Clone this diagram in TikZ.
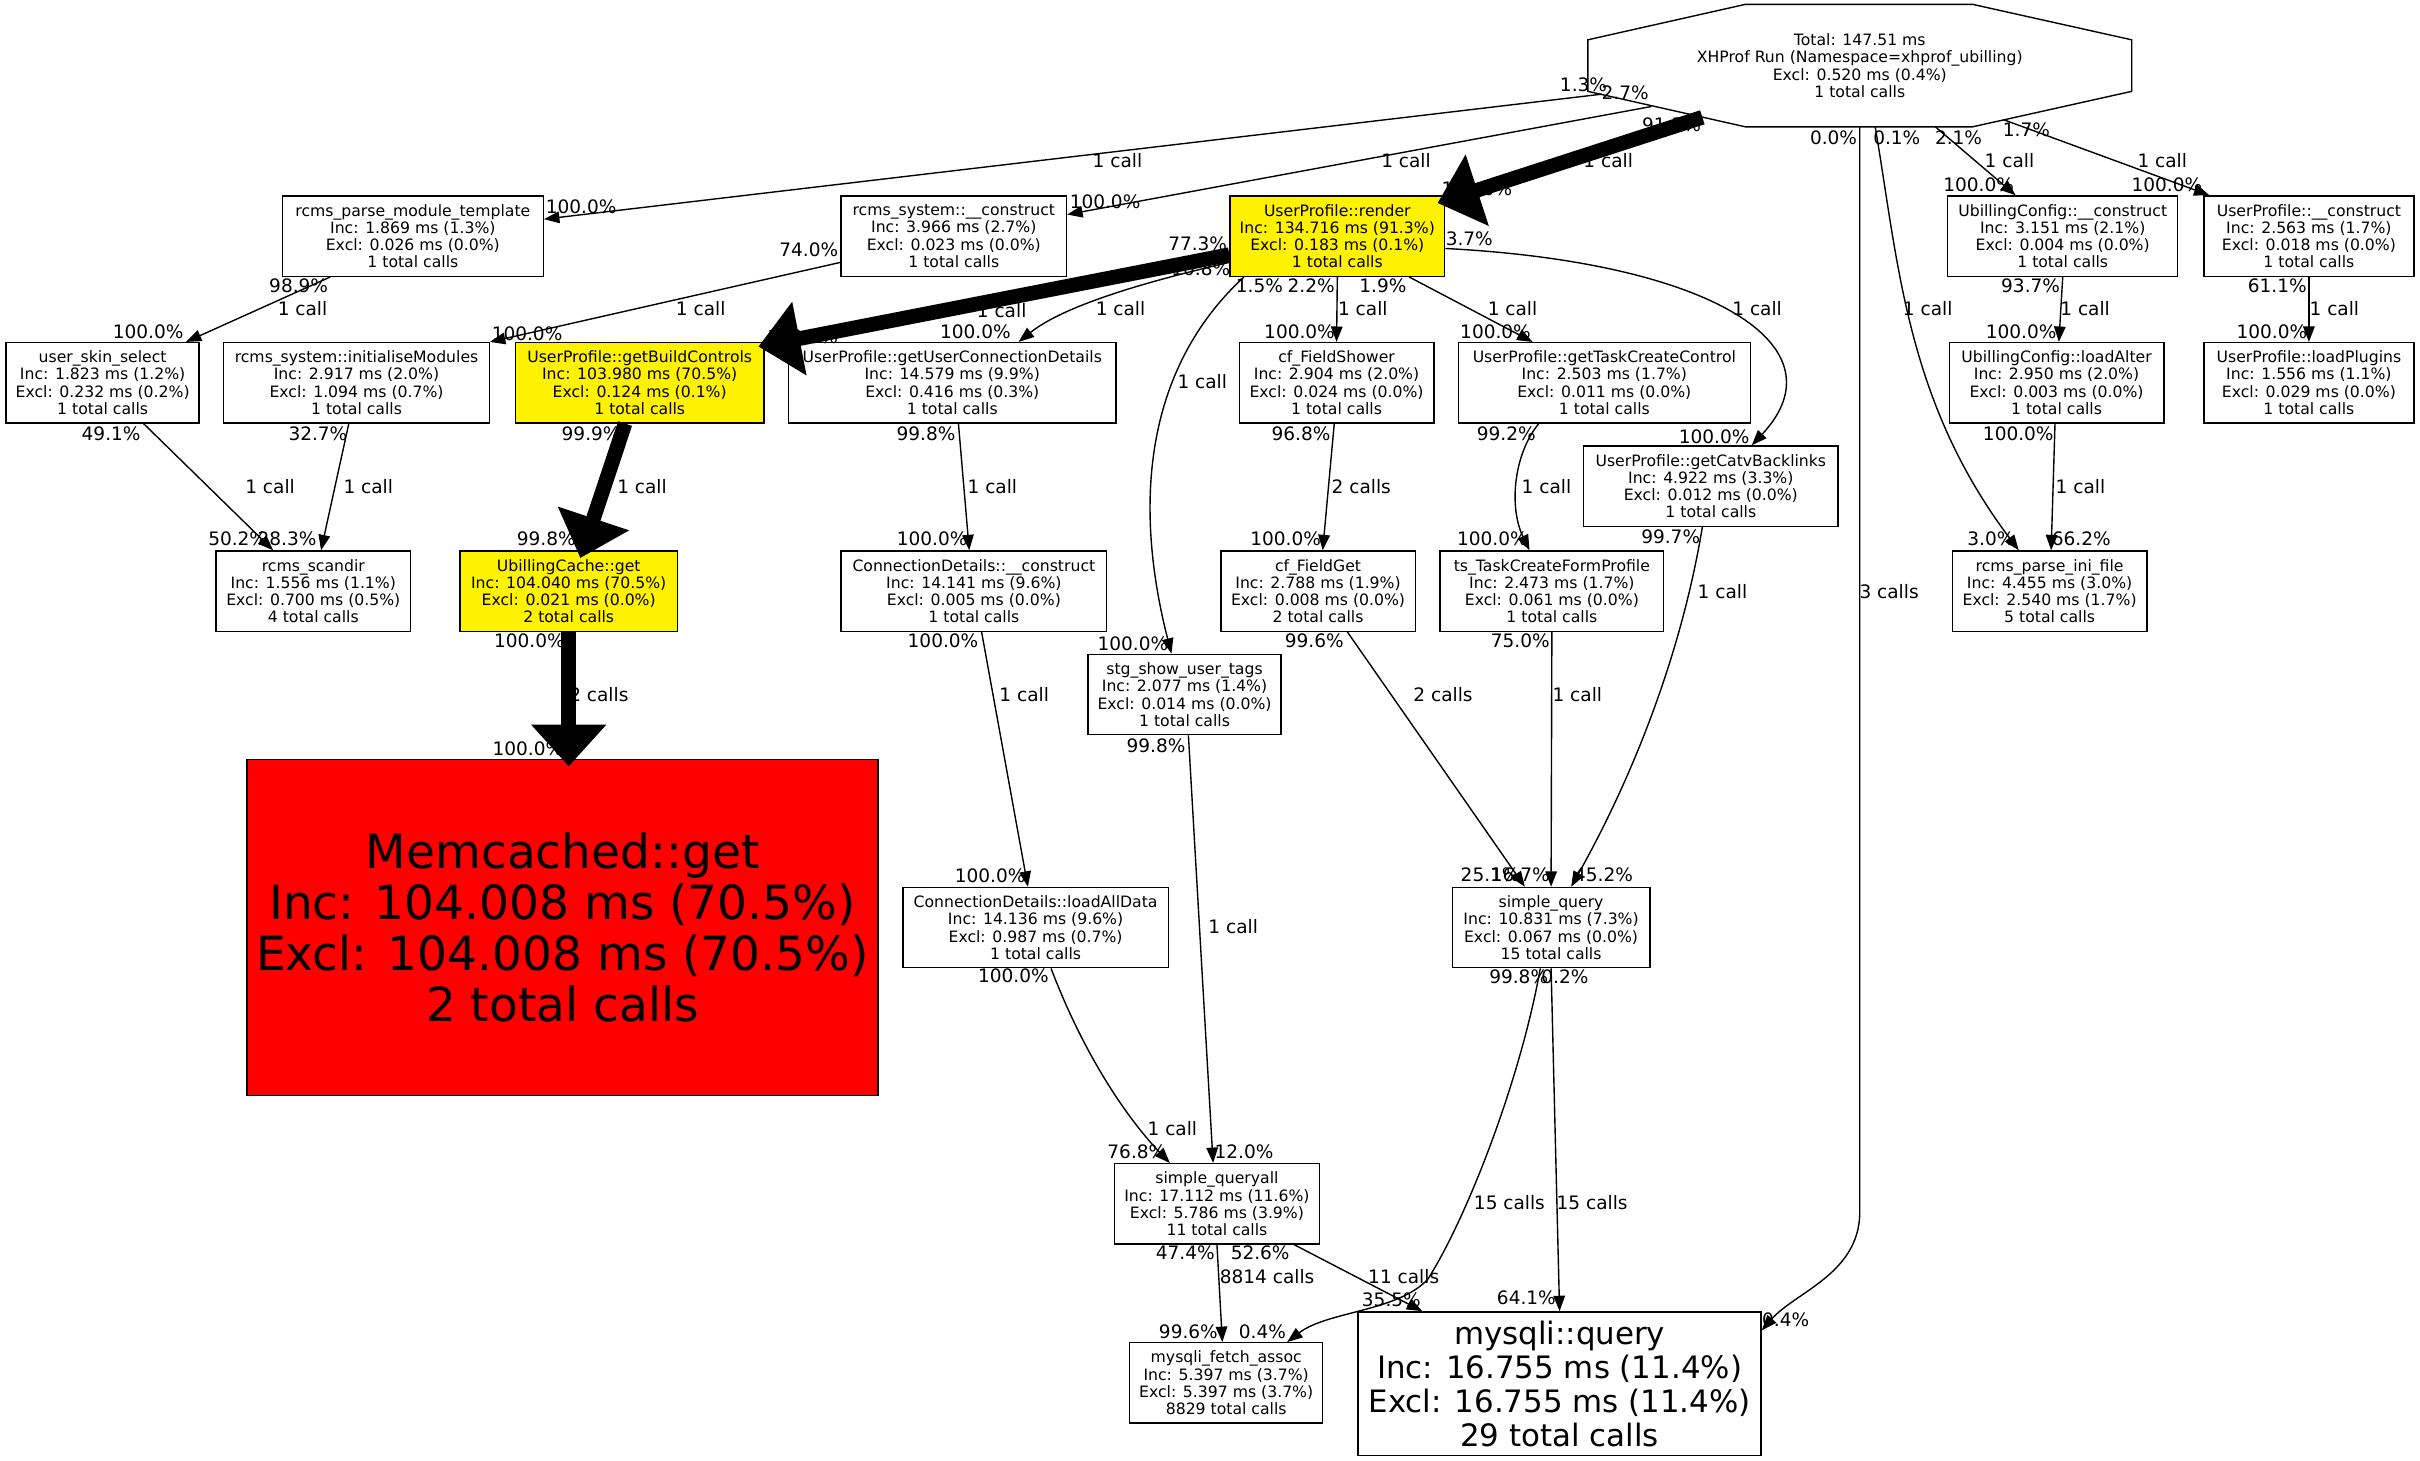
\documentclass[tikz,border=0pt]{standalone}
\usepackage{fontspec}
\setmainfont{DejaVu Sans}
\usetikzlibrary{arrows.meta}
\tikzset{every picture/.append style={x=1pt, y=-1pt}}
\tikzset{
    fn/.style={draw, rectangle, line width=0.9pt, minimum height=52pt, inner sep=2pt,
    	align=center, font=\fontsize{10.15}{11.2}\selectfont},
    hot/.style={fn, fill=yellow},
    pct/.style={inner sep=0pt, font=\fontsize{12}{13}\selectfont},
    call/.style={line width=0.9pt, -{Triangle[length=10pt, width=7.5pt]}},
    fat/.style={line width=9.5pt, -{Triangle[length=27pt, width=47pt]}}
}

\begin{document}
\begin{tikzpicture}
	\fill[white] (0,0) rectangle (1568,946.6);
	\useasboundingbox (0,0) rectangle (1568,946.6);

	\node (total) [rectangle, minimum width=352pt, minimum height=79pt, inner sep=0pt, align=center,
		font=\fontsize{10.15}{11.2}\selectfont] at (1205,42.5) {Total: 147.51 ms\\XHProf Run (Namespace=xhprof\_ubilling)\\Excl: 0.520 ms (0.4\%)\\1 total calls};
	\draw[line width=0.9pt] ([xshift=-74pt]total.north) -- ([xshift=73pt]total.north) -- ([yshift=-23pt]total.north east)
		-- ([yshift=23pt]total.south east) -- ([xshift=73pt]total.south) -- ([xshift=-74pt]total.south)
		-- ([yshift=23pt]total.south west) -- ([yshift=-23pt]total.north west) -- cycle;

	\node (parse) [fn, minimum width=169pt] at (267.5,153) {rcms\_parse\_module\_template\\Inc: 1.869 ms (1.3\%)\\Excl: 0.026 ms (0.0\%)\\1 total calls};
	\node (rcmscon) [fn, minimum width=146pt] at (618,153) {rcms\_system::\_\_construct\\Inc: 3.966 ms (2.7\%)\\Excl: 0.023 ms (0.0\%)\\1 total calls};
	\node (render) [hot, minimum width=139pt] at (866.5,153) {UserProfile::render\\Inc: 134.716 ms (91.3\%)\\Excl: 0.183 ms (0.1\%)\\1 total calls};
	\node (ubcon) [fn, minimum width=149pt] at (1336.5,153) {UbillingConfig::\_\_construct\\Inc: 3.151 ms (2.1\%)\\Excl: 0.004 ms (0.0\%)\\1 total calls};
	\node (upcon) [fn, minimum width=136pt] at (1496,153) {UserProfile::\_\_construct\\Inc: 2.563 ms (1.7\%)\\Excl: 0.018 ms (0.0\%)\\1 total calls};

	\node (skin) [fn, minimum width=125pt] at (66.5,248) {user\_skin\_select\\Inc: 1.823 ms (1.2\%)\\Excl: 0.232 ms (0.2\%)\\1 total calls};
	\node (initmod) [fn, minimum width=172pt] at (231,248) {rcms\_system::initialiseModules\\Inc: 2.917 ms (2.0\%)\\Excl: 1.094 ms (0.7\%)\\1 total calls};
	\node (buildctl) [hot, minimum width=161pt] at (414.5,248) {UserProfile::getBuildControls\\Inc: 103.980 ms (70.5\%)\\Excl: 0.124 ms (0.1\%)\\1 total calls};
	\node (conndet) [fn, minimum width=212pt] at (617,248) {UserProfile::getUserConnectionDetails\\Inc: 14.579 ms (9.9\%)\\Excl: 0.416 ms (0.3\%)\\1 total calls};
	\node (fshower) [fn, minimum width=126pt] at (866,248) {cf\_FieldShower\\Inc: 2.904 ms (2.0\%)\\Excl: 0.024 ms (0.0\%)\\1 total calls};
	\node (taskctl) [fn, minimum width=189pt] at (1039.5,248) {UserProfile::getTaskCreateControl\\Inc: 2.503 ms (1.7\%)\\Excl: 0.011 ms (0.0\%)\\1 total calls};
	\node (loadalter) [fn, minimum width=139pt] at (1332.5,248) {UbillingConfig::loadAlter\\Inc: 2.950 ms (2.0\%)\\Excl: 0.003 ms (0.0\%)\\1 total calls};
	\node (plugins) [fn, minimum width=136pt] at (1496,248) {UserProfile::loadPlugins\\Inc: 1.556 ms (1.1\%)\\Excl: 0.029 ms (0.0\%)\\1 total calls};
	\node (catv) [fn, minimum width=165pt] at (1108.5,315) {UserProfile::getCatvBacklinks\\Inc: 4.922 ms (3.3\%)\\Excl: 0.012 ms (0.0\%)\\1 total calls};

	\node (scandir) [fn, minimum width=126pt] at (203,383) {rcms\_scandir\\Inc: 1.556 ms (1.1\%)\\Excl: 0.700 ms (0.5\%)\\4 total calls};
	\node (cache) [hot, minimum width=141pt] at (368.5,383) {UbillingCache::get\\Inc: 104.040 ms (70.5\%)\\Excl: 0.021 ms (0.0\%)\\2 total calls};
	\node (cdcon) [fn, minimum width=172pt] at (631,383) {ConnectionDetails::\_\_construct\\Inc: 14.141 ms (9.6\%)\\Excl: 0.005 ms (0.0\%)\\1 total calls};
	\node (fget) [fn, minimum width=126pt] at (854,383) {cf\_FieldGet\\Inc: 2.788 ms (1.9\%)\\Excl: 0.008 ms (0.0\%)\\2 total calls};
	\node (tsform) [fn, minimum width=145pt] at (1005.5,383) {ts\_TaskCreateFormProfile\\Inc: 2.473 ms (1.7\%)\\Excl: 0.061 ms (0.0\%)\\1 total calls};
	\node (parseini) [fn, minimum width=126pt] at (1328,383) {rcms\_parse\_ini\_file\\Inc: 4.455 ms (3.0\%)\\Excl: 2.540 ms (1.7\%)\\5 total calls};
	\node (tags) [fn, minimum width=125pt] at (767.5,450) {stg\_show\_user\_tags\\Inc: 2.077 ms (1.4\%)\\Excl: 0.014 ms (0.0\%)\\1 total calls};

	\node (memc) [fn, fill=red, minimum width=409pt, minimum height=218pt, font=\fontsize{30.5}{33}\selectfont] at (364.5,601) {Memcached::get\\Inc: 104.008 ms (70.5\%)\\Excl: 104.008 ms (70.5\%)\\2 total calls};
	\node (loadall) [fn, minimum width=172pt] at (671,601) {ConnectionDetails::loadAllData\\Inc: 14.136 ms (9.6\%)\\Excl: 0.987 ms (0.7\%)\\1 total calls};
	\node (squery) [fn, minimum width=128pt] at (1005,601) {simple\_query\\Inc: 10.831 ms (7.3\%)\\Excl: 0.067 ms (0.0\%)\\15 total calls};
	\node (queryall) [fn, minimum width=133pt] at (788.5,780) {simple\_queryall\\Inc: 17.112 ms (11.6\%)\\Excl: 5.786 ms (3.9\%)\\11 total calls};
	\node (fetch) [fn, minimum width=125pt] at (794.5,896) {mysqli\_fetch\_assoc\\Inc: 5.397 ms (3.7\%)\\Excl: 5.397 ms (3.7\%)\\8829 total calls};
	\node (mquery) [fn, minimum width=261pt, minimum height=93pt, font=\fontsize{20}{22}\selectfont] at (1010.5,896.5) {mysqli::query\\Inc: 16.755 ms (11.4\%)\\Excl: 16.755 ms (11.4\%)\\29 total calls};

	% percentages at both ends of the calls
	\node (p1) [pct] at (1026,55) {1.3\%}; \node (p2) [pct] at (1053,60) {2.7\%};
	\node (p3) [pct] at (1083,81) {91.3\%}; \node (p4) [pct] at (1188,89) {0.0\%};
	\node (p5) [pct] at (1229,89) {0.1\%}; \node (p6) [pct] at (1269,89) {2.1\%};
	\node (p7) [pct] at (1313,84) {1.7\%}; \node (p8) [pct] at (376.5,134) {100.0\%};
	\node (p9) [pct] at (716,131) {100.0\%}; \node (p10) [pct] at (957,122) {100.0\%};
	\node (p11) [pct] at (1282,120) {100.0\%}; \node (p12) [pct] at (1404,120) {100.0\%};
	\node (p13) [pct] at (193.5,185) {98.9\%}; \node (p14) [pct] at (524,162) {74.0\%};
	\node (p15) [pct] at (776,158) {77.3\%}; \node (p16) [pct] at (778,174) {10.8\%};
	\node (p17) [pct] at (816,185) {1.5\%}; \node (p18) [pct] at (849.5,185) {2.2\%};
	\node (p19) [pct] at (896,185) {1.9\%}; \node (p20) [pct] at (952,155) {3.7\%};
	\node (p21) [pct] at (1315.7,185) {93.7\%}; \node (p22) [pct] at (1475.5,185) {61.1\%};
	\node (p23) [pct] at (96,215) {100.0\%}; \node (p24) [pct] at (341.5,216) {100.0\%};
	\node (p25) [pct] at (520,218) {100.0\%}; \node (p26) [pct] at (632,215) {100.0\%};
	\node (p27) [pct] at (842,215) {100.0\%}; \node (p28) [pct] at (969,215) {100.0\%};
	\node (p29) [pct] at (1309.6,215) {100.0\%}; \node (p30) [pct] at (1472,215) {100.0\%};
	\node (p31) [pct] at (72,281) {49.1\%}; \node (p32) [pct] at (206,281) {32.7\%};
	\node (p33) [pct] at (383,281) {99.9\%}; \node (p34) [pct] at (600,281) {99.8\%};
	\node (p35) [pct] at (843,281) {96.8\%}; \node (p36) [pct] at (976,281) {99.2\%};
	\node (p37) [pct] at (1307.7,281) {100.0\%}; \node (p38) [pct] at (1110.6,283) {100.0\%};
	\node (p39) [pct] at (1082.5,348) {99.7\%}; \node (p40) [pct] at (154,349) {50.2\%};
	\node (p41) [pct] at (186,349) {28.3\%}; \node (p42) [pct] at (354,349) {99.8\%};
	\node (p43) [pct] at (604,349) {100.0\%}; \node (p44) [pct] at (833,349) {100.0\%};
	\node (p45) [pct] at (967,349) {100.0\%}; \node (p46) [pct] at (1290,349) {3.0\%};
	\node (p47) [pct] at (1348.5,349) {66.2\%}; \node (p48) [pct] at (343,415) {100.0\%};
	\node (p49) [pct] at (611,415) {100.0\%}; \node (p50) [pct] at (851.6,415) {99.6\%};
	\node (p51) [pct] at (985,415) {75.0\%}; \node (p52) [pct] at (734,417) {100.0\%};
	\node (p53) [pct] at (749,483) {99.8\%}; \node (p54) [pct] at (342,485) {100.0\%};
	\node (p55) [pct] at (641.5,567.6) {100.0\%}; \node (p56) [pct] at (965.5,567) {25.1\%};
	\node (p57) [pct] at (985,567) {16.7\%}; \node (p58) [pct] at (1039,567) {45.2\%};
	\node (p59) [pct] at (656.6,632.5) {100.0\%}; \node (p60) [pct] at (984,633) {99.8\%};
	\node (p61) [pct] at (1014,633) {0.2\%}; \node (p62) [pct] at (736.6,746.4) {76.8\%};
	\node (p63) [pct] at (806,746) {12.0\%}; \node (p64) [pct] at (768,811.7) {47.4\%};
	\node (p65) [pct] at (816.5,811.7) {52.6\%}; \node (p66) [pct] at (901.5,842.4) {35.5\%};
	\node (p67) [pct] at (989,841) {64.1\%}; \node (p68) [pct] at (1157,855) {0.4\%};
	\node (p69) [pct] at (770,863) {99.6\%}; \node (p70) [pct] at (818,863) {0.4\%};

	% call counts
	\node (c1) [pct] at (724,104) {1 call}; \node (c2) [pct] at (911,104) {1 call};
	\node (c3) [pct] at (1042,104) {1 call}; \node (c4) [pct] at (1302,104) {1 call};
	\node (c5) [pct] at (1401,104) {1 call}; \node (c6) [pct] at (1249,200) {1 call};
	\node (c7) [pct] at (1224,383) {3 calls}; \node (c8) [pct] at (196,200) {1 call};
	\node (c9) [pct] at (454,200) {1 call}; \node (c10) [pct] at (649,201) {1 call};
	\node (c11) [pct] at (726,200) {1 call}; \node (c12) [pct] at (779,247.5) {1 call};
	\node (c13) [pct] at (883,200) {1 call}; \node (c14) [pct] at (980,200) {1 call};
	\node (c15) [pct] at (1138.5,200) {1 call}; \node (c16) [pct] at (1351,200) {1 call};
	\node (c17) [pct] at (1512.5,200) {1 call}; \node (c18) [pct] at (1348,315) {1 call};
	\node (c19) [pct] at (416,315) {1 call}; \node (c20) [pct] at (388,450) {2 calls};
	\node (c21) [pct] at (175,315) {1 call}; \node (c22) [pct] at (238.6,315) {1 call};
	\node (c23) [pct] at (643,315) {1 call}; \node (c24) [pct] at (882,315) {2 calls};
	\node (c25) [pct] at (1002,315) {1 call}; \node (c26) [pct] at (1116,383) {1 call};
	\node (c27) [pct] at (663.6,450) {1 call}; \node (c28) [pct] at (935,450) {2 calls};
	\node (c29) [pct] at (1022,450) {1 call}; \node (c30) [pct] at (799,600.5) {1 call};
	\node (c31) [pct] at (759.6,731) {1 call}; \node (c32) [pct] at (978,779) {15 calls};
	\node (c33) [pct] at (1031.6,779) {15 calls}; \node (c34) [pct] at (821,827) {8814 calls};
	\node (c35) [pct] at (909.5,827.3) {11 calls};

	% calls
	\draw[call] ([shift={(-167,18.5)}]total.center) -- ([shift={(0,-11)}]parse.east);
	\draw[call] ([shift={(-135,26.5)}]total.center) -- ([shift={(0,-14)}]rcmscon.east);
	\draw[fat] ([shift={(-102,33.5)}]total.center) -- ([shift={(-5,5)}]render.north east);
	\draw[call] ([xshift=49pt]total.south) -- ([xshift=-30.5pt]ubcon.north);
	\draw[call] ([shift={(93,35)}]total.center) -- ([xshift=4pt]upcon.north west);
	\draw[call] ([xshift=10pt]total.south) .. controls +(15,88) and +(-73,-97) .. ([xshift=-20pt]parseini.north);
	\draw[call] (total.south) -- ([yshift=-703pt]total.south) .. controls +(0,40) and +(22,-25) .. ([shift={(0,-34.5)}]mquery.east);

	\draw[fat] ([shift={(0,12)}]render.west) -- ([shift={(-4,3)}]buildctl.north east);
	\draw[call] ([shift={(0,17)}]render.west) .. controls +(-52,12) and +(30,-24) .. ([xshift=43pt]conndet.north);
	\draw[call] ([xshift=-60.5pt]render.south) .. controls +(-66,61) and +(-24,-94) .. ([xshift=-8.5pt]tags.north);
	\draw[call] (render.south) -- (fshower.north);
	\draw[call] ([xshift=46.5pt]render.south) -- ([xshift=-46.5pt]taskctl.north);
	\draw[call] ([shift={(0,8)}]render.east) .. controls +(174,9) and +(60,-64) .. ([xshift=26.5pt]catv.north);

	\draw[call] ([xshift=-53.5pt]parse.south) -- ([xshift=54pt]skin.north);
	\draw[call] ([shift={(0,17)}]rcmscon.west) -- (initmod.north east);
	\draw[call] (ubcon.south) -- ([xshift=1.5pt]loadalter.north);
	\draw[call] (upcon.south) -- (plugins.north);
	\draw[fat] ([xshift=-9.5pt]buildctl.south) -- ([shift={(7.5,5)}]cache.north);
	\draw[call] ([xshift=26.5pt]skin.south) -- ([xshift=-26pt]scandir.north);
	\draw[call] ([xshift=-5pt]initmod.south) -- ([xshift=5pt]scandir.north);
	\draw[call] ([xshift=4pt]conndet.south) -- ([xshift=-3pt]cdcon.north);
	\draw[call] ([xshift=-1.5pt]fshower.south) -- ([xshift=3pt]fget.north);
	\draw[call] ([xshift=-42.5pt]taskctl.south) .. controls +(-17,21) and +(-13,-27) .. ([xshift=-14.5pt]tsform.north);
	\draw[call] ([xshift=-1pt]loadalter.south) -- ([xshift=1pt]parseini.north);
	\draw[call] ([xshift=-5.5pt]catv.south) .. controls +(-13,79) and +(42,-75) .. ([xshift=13pt]squery.north);

	\draw[fat] (cache.south) -- ([shift={(4,5)}]memc.north);
	\draw[call] ([xshift=5pt]cdcon.south) -- ([xshift=-5pt]loadall.north);
	\draw[call] ([xshift=19pt]fget.south) -- ([xshift=-17pt]squery.north);
	\draw[call] (tsform.south) -- (squery.north);
	\draw[call] ([xshift=2.5pt]tags.south) -- ([xshift=-2.5pt]queryall.north);
	\draw[call] ([xshift=10pt]loadall.south) .. controls +(24,63) and +(-23,-24) .. ([xshift=-30.5pt]queryall.north);
	\draw[call] ([xshift=-7pt]squery.south) .. controls +(-13,73) and +(25,-39) .. (925,829)
		.. controls +(-20,21) and +(26,-20) .. ([xshift=39.5pt]fetch.north);
	\draw[call] (squery.south) -- (mquery.north);
	\draw[call] (queryall.south) -- ([xshift=-2.5pt]fetch.north);
	\draw[call] ([xshift=50pt]queryall.south) -- ([xshift=-89pt]mquery.north);
\end{tikzpicture}
\end{document}
